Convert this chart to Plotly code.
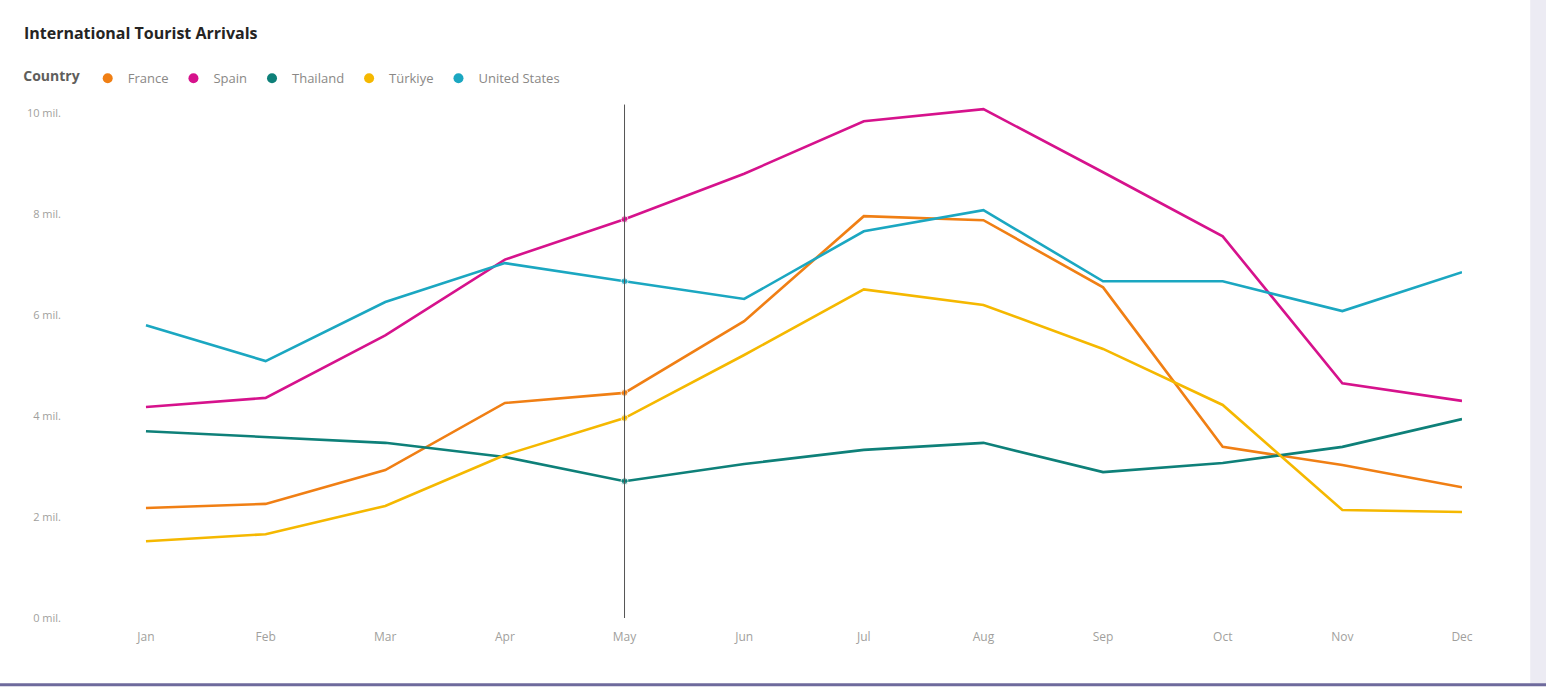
import plotly.graph_objects as go

months = ['Jan', 'Feb', 'Mar', 'Apr', 'May', 'Jun', 'Jul', 'Aug', 'Sep', 'Oct', 'Nov', 'Dec']

# arrivals in millions
france = [2.18, 2.26, 2.93, 4.26, 4.46, 5.88, 7.96, 7.88, 6.55, 3.39, 3.03, 2.59]
spain = [4.18, 4.36, 5.6, 7.1, 7.9, 8.8, 9.84, 10.08, 8.83, 7.56, 4.65, 4.3]
thailand = [3.7, 3.58, 3.47, 3.19, 2.71, 3.05, 3.33, 3.47, 2.89, 3.07, 3.39, 3.94]
turkiye = [1.52, 1.66, 2.22, 3.23, 3.96, 5.21, 6.51, 6.2, 5.33, 4.22, 2.14, 2.1]
united_states = [5.8, 5.09, 6.26, 7.03, 6.67, 6.32, 7.66, 8.08, 6.67, 6.67, 6.08, 6.85]

country_names = ['France', 'Spain', 'Thailand', 'Türkiye', 'United States']
colors = ['#F07F14', '#D6128C', '#0E8079', '#F5B800', '#1BA7C1']

y_ticks = [0, 2, 4, 6, 8, 10]
y_tick_text = ['0 mil.', '2 mil.', '4 mil.', '6 mil.', '8 mil.', '10 mil.']

hover_month = 'May'

series = [france, spain, thailand, turkiye, united_states]

fig = go.Figure()

marker_sizes = [7 if m == hover_month else 0 for m in months]

for name, values, color in zip(country_names, series, colors):
    fig.add_trace(go.Scatter(
        x=months, y=values, mode='lines+markers', name=name,
        line=dict(color=color, width=2.6),
        marker=dict(color=color, size=marker_sizes),
        showlegend=False
    ))

# legend entries drawn as dots only, like the original
for name, color in zip(country_names, colors):
    fig.add_trace(go.Scatter(
        x=[None], y=[None], mode='markers', name=name,
        marker=dict(color=color, size=10, symbol='circle')
    ))

fig.add_shape(type='line', xref='x', yref='paper', x0=hover_month, x1=hover_month,
              y0=0, y1=0.978, line=dict(color='#555555', width=1))

# card edges
fig.add_shape(type='line', xref='paper', yref='paper', x0=-0.06, x1=1.07,
              y0=-0.127, y1=-0.127, line=dict(color='#6E6A9C', width=3))
fig.add_shape(type='rect', xref='paper', yref='paper', x0=1.049, x1=1.07,
              y0=-0.125, y1=1.2, fillcolor='#ECEBF3', line=dict(width=0), layer='below')

fig.update_layout(
    width=1546, height=688,
    margin=dict(l=70, r=84, t=93, b=70),
    paper_bgcolor='white',
    plot_bgcolor='white',
    font=dict(family='Segoe UI, Open Sans, sans-serif', color='#666666'),
    title=dict(text='<b>International Tourist Arrivals</b>', x=0.0155, xanchor='left',
               y=0.952, yanchor='middle', font=dict(size=16, color='#252423')),
    legend=dict(orientation='h', x=-0.035, xanchor='left', y=1.028, yanchor='middle',
                title=dict(text='<b>Country</b>', font=dict(size=14, color='#605E5C')),
                font=dict(size=13, color='#8A8886'), itemwidth=30,
                tracegroupgap=0, bgcolor='rgba(0,0,0,0)'),
    showlegend=True,
)

fig.update_xaxes(type='category', range=[-0.635, 11.0], showgrid=False, zeroline=False,
                 showline=False, tickfont=dict(size=12, color='#A19F9D'), ticks='',
                 ticklabelstandoff=10)
fig.update_yaxes(range=[0, 10.4], tickvals=y_ticks, ticktext=y_tick_text, showgrid=False,
                 zeroline=False, showline=False, tickfont=dict(size=11, color='#A19F9D'),
                 ticks='', ticklabelstandoff=8)

fig.write_html('out.html', config={'displayModeBar': False},
               post_script="document.body.style.margin='0';")
